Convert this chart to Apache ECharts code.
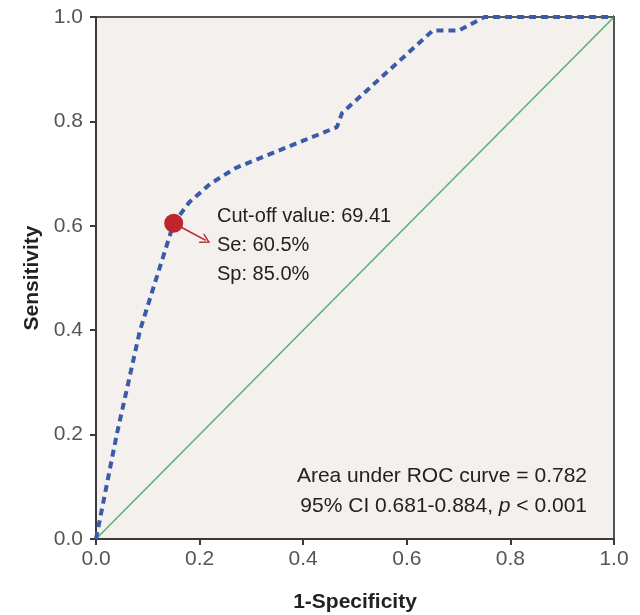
<!DOCTYPE html>
<html>
<head>
<meta charset="utf-8">
<script src="https://cdn.jsdelivr.net/npm/echarts@6/dist/echarts.min.js"></script>
<style>
  html, body { margin: 0; padding: 0; background: #fff; }
  #chart { width: 640px; height: 615px; }
</style>
</head>
<body>
<div id="chart"></div>
<script>
// ROC curve: x = 1-specificity, y = sensitivity
var rocX = [0, 0.01, 0.04, 0.085, 0.15, 0.18, 0.22, 0.27, 0.4, 0.465, 0.475, 0.65, 0.7, 0.75, 1];
var rocY = [0, 0.05, 0.2, 0.4, 0.605, 0.645, 0.68, 0.711, 0.763, 0.789, 0.816, 0.974, 0.974, 1, 1];
var refX = [0, 1];
var refY = [0, 1];
var cutoff = [0.15, 0.605];
var arrowEnd = [0.212, 0.572];
var ticks = [0, 0.2, 0.4, 0.6, 0.8, 1.0];

var chart = echarts.init(document.getElementById('chart'));

var rocData = rocX.map(function (x, i) { return [x, rocY[i]]; });
var refData = refX.map(function (x, i) { return [x, refY[i]]; });

var font = 'Liberation Sans, Arial';

var axisCommon = {
  type: 'value',
  min: ticks[0],
  max: ticks[ticks.length - 1],
  interval: 0.2,
  axisLine: { show: true, lineStyle: { color: '#3a3a3a', width: 2 } },
  axisTick: { show: true, length: 6, lineStyle: { color: '#3a3a3a', width: 2 } },
  axisLabel: {
    color: '#555', fontSize: 21, fontFamily: font,
    formatter: function (v) { return v.toFixed(1); }
  },
  splitLine: { show: false },
  nameTextStyle: { color: '#222', fontSize: 21, fontWeight: 'bold', fontFamily: font }
};

var option = {
  animation: false,
  grid: {
    left: 96, right: 26, top: 17, bottom: 76,
    outerBoundsMode: 'none', containLabel: false,
    show: true, backgroundColor: '#f3f0ee', borderColor: '#555', borderWidth: 2
  },
  xAxis: Object.assign({}, axisCommon, {
    name: '1-Specificity', nameLocation: 'middle', nameGap: 53,
    axisLabel: Object.assign({}, axisCommon.axisLabel, { margin: 10 })
  }),
  yAxis: Object.assign({}, axisCommon, {
    name: 'Sensitivity', nameLocation: 'middle', nameGap: 50, nameRotate: 90,
    axisLabel: Object.assign({}, axisCommon.axisLabel, { margin: 13 })
  }),
  series: [
    {
      type: 'line',
      data: refData,
      symbol: 'none',
      lineStyle: { color: '#55b572', width: 1.6 },
      z: 2
    },
    {
      type: 'line',
      data: rocData,
      symbol: 'none',
      lineStyle: { color: '#3a5ca6', width: 4, type: [7, 5] },
      z: 3,
      markLine: {
        silent: true,
        symbol: ['none', 'path://M0,10 L5,0 L10,10 L8.6,10 L5,2.8 L1.4,10 Z'],
        symbolSize: [11, 10],
        label: { show: false },
        lineStyle: { color: '#b8282d', width: 1.6, type: 'solid' },
        data: [[{ coord: cutoff }, { coord: arrowEnd }]]
      }
    },
    {
      type: 'scatter',
      data: [cutoff],
      symbol: 'circle',
      symbolSize: 19,
      itemStyle: { color: '#bf262c', opacity: 1 },
      z: 5
    }
  ],
  graphic: [
    {
      type: 'text', left: 217, top: 202,
      style: {
        text: 'Cut-off value: 69.41\nSe: 60.5%\nSp: 85.0%',
        fill: '#222', fontSize: 20, lineHeight: 29, fontFamily: font
      }
    },
    {
      type: 'text', right: 53, top: 466,
      style: {
        text: 'Area under ROC curve = 0.782',
        fill: '#222', fontSize: 21, fontFamily: font
      }
    },
    {
      type: 'text', right: 53, top: 496,
      style: {
        text: '{n|95% CI 0.681-0.884, }{i|p}{n| < 0.001}',
        rich: {
          n: { fill: '#222', fontSize: 21, fontFamily: font },
          i: { fill: '#222', fontSize: 21, fontStyle: 'italic', fontFamily: font }
        }
      }
    }
  ]
};

chart.setOption(option);
</script>
</body>
</html>
